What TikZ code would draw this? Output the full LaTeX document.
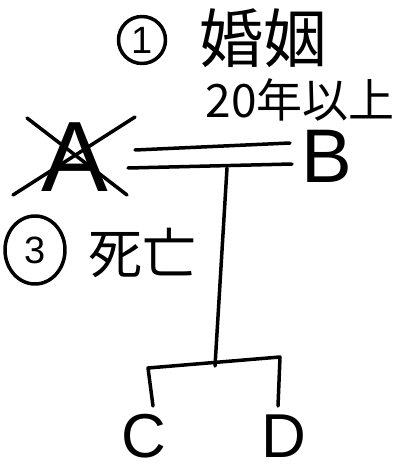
\documentclass[tikz,border=0pt]{standalone}
\usepackage{fontspec}
\usetikzlibrary{shapes.geometric}
\setmainfont{Liberation Sans}
\newfontfamily\jp{Noto Sans CJK JP}
\begin{document}
\begin{tikzpicture}[x=1pt,y=-1pt,line cap=round,line join=round,
  stroke/.style={line width=3.5pt},
  num/.style={draw,line width=3.5pt,inner sep=0pt,font=\fontsize{38}{38}\selectfont},
  jptext/.style={inner sep=0pt,font=\jp\fontsize{#1}{#1}\selectfont},
  person/.style={inner sep=0pt,font=\fontsize{#1}{#1}\selectfont}]
\useasboundingbox (0,0) rectangle (411,473);
% labels
\node[num,circle,minimum size=47pt] (n1) at (142,40) {1};
\node[jptext=64] (t1) at (263,38) {婚姻};
\node[jptext=46] (t2) at (300,100) {20年以上};
\node[num,ellipse,minimum width=60pt,minimum height=68pt] (n3) at (35,250) {3};
\node[jptext=54] (t3) at (142,253) {死亡};
% persons
\node[person=100] (A) at (75,157) {A};
\node[person=76] (B) at (327,156) {B};
\node[person=62] (C) at (144,436) {C};
\node[person=62] (D) at (284,436) {D};
% cross over A
\coordinate (x1) at (13,195); \coordinate (x2) at (135,117);
\coordinate (x3) at (27,118); \coordinate (x4) at (127,195);
\draw[stroke] (x1) -- (x2);
\draw[stroke] (x3) -- (x4);
% marriage double line
\coordinate (m1a) at (135,150); \coordinate (m1b) at (290,143);
\coordinate (m2a) at (128,168); \coordinate (m2b) at (292,164);
\draw[stroke] (m1a) -- (m1b);
\draw[stroke] (m2a) -- (m2b);
% descent line
\coordinate (v1) at (227,168); \coordinate (v2) at (215,366);
\draw[stroke] (v1) -- (v2);
\coordinate (bl) at (148,368); \coordinate (br) at (280,357);
\coordinate (cl) at (153,406); \coordinate (dr) at (278,406);
\draw[stroke] (cl) -- (bl) -- (br) -- (dr);
\end{tikzpicture}
\end{document}
